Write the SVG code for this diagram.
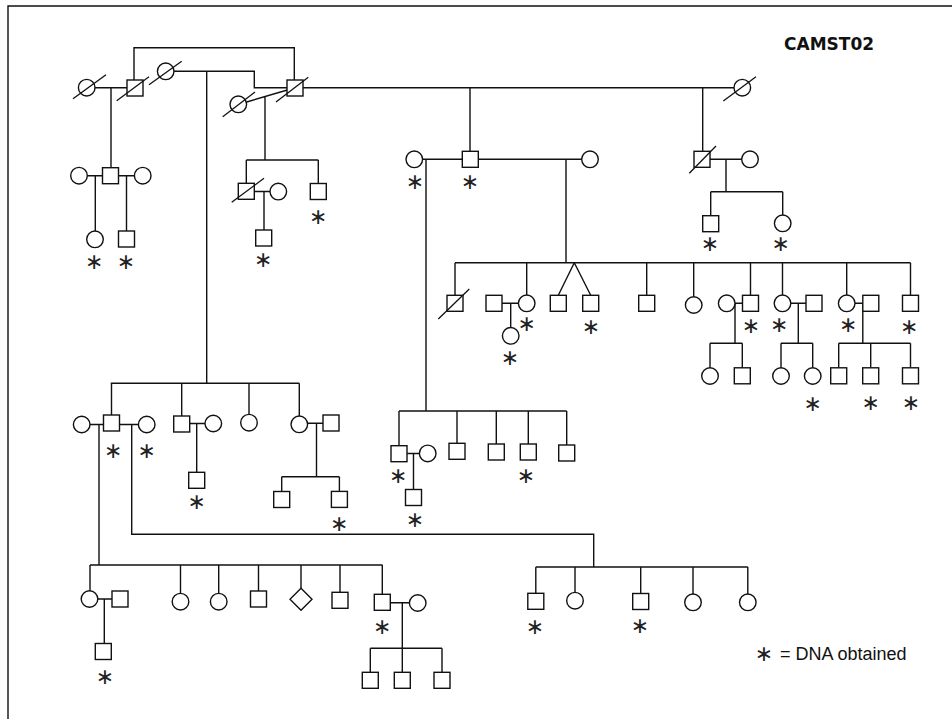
<svg xmlns="http://www.w3.org/2000/svg" width="952" height="719" viewBox="0 0 952 719">
<style>
.l{fill:none;stroke:#111;stroke-width:1.4}
.n{fill:#fff;stroke:#111;stroke-width:1.4}
.d{stroke:#111;stroke-width:1.3}
.a{font-family:"DejaVu Sans",sans-serif;font-size:22px;fill:#222;text-anchor:middle;dominant-baseline:central}
.t{font-family:"DejaVu Sans",sans-serif;font-size:17px;font-weight:bold;fill:#111}
.g{font-family:"Liberation Sans",Arial,sans-serif;font-size:18px;fill:#111}
</style>
<rect width="952" height="719" fill="#fff"/>
<path class="l" d="M8,719 V6 H952"/>
<text class="t" x="784" y="50">CAMST02</text>
<g id="legend"><text class="a" x="764" y="653">∗</text><text class="g" x="780" y="660">= DNA obtained</text></g>
<g id="connectors" class="l">
<path d="M95,87.7 H127 M111,87.7 V167.7"/>
<path d="M134,80 V47.7 H294.3 V80"/>
<path d="M174,71.3 H254.3 V87.7 H287 M206.7,71.3 V383.3"/>
<path d="M246.7,102 L287.3,90 M265,96.6 V160"/>
<path d="M303,87.7 H734 M470,87.7 V151.3 M702.7,87.7 V151.3"/>
<path d="M87.3,175.7 H102.5 M118.5,175.7 H134.4 M95.3,175.7 V231 M126.5,175.7 V231"/>
<path d="M246.3,160 H318.3 M246.3,160 V183.3 M318.3,160 V183.5 M254.3,191.5 H270 M264,191.5 V230"/>
<path d="M422.6,159.3 H462.3 M478.3,159.3 H581.7 M426,159.3 V411 M566,159.3 V262.7"/>
<path d="M710,159.3 H741.7 M726,159.3 V191.7 M710.7,191.7 H782.7 M710.7,191.7 V215.7 M782.7,191.7 V215"/>
<path d="M455,262.7 H910.5 M455,262.7 V295.3 M526.7,262.7 V295 M502,303.3 H518.4 M510.7,303.3 V327.5"/>
<path d="M574.3,262.7 L558.3,295.3 M574.3,262.7 L590.7,295.3 M646.7,262.7 V295.3 M693.7,262.7 V296.7"/>
<path d="M750.5,262.7 V295.3 M735,303.3 H742.5 M735,303.3 V343.3 M710,343.3 H742.3 M710,343.3 V367.7 M742.3,343.3 V367.8"/>
<path d="M782.5,262.7 V295 M790.8,303.3 H806 M798.3,303.3 V343.3 M781,343.3 H812.7 M781,343.3 V367.7 M812.7,343.3 V367.7"/>
<path d="M846.7,262.7 V295 M855,303.3 H862.8 M862.8,303.3 V343.3 M838.7,343.3 H910.5 M838.7,343.3 V367.8 M870.7,343.3 V367.8 M910.5,343.3 V367.8 M910.5,262.7 V295.3"/>
<path d="M110.7,383.3 H299.3 M111.5,383.3 V415 M181.7,383.3 V416 M249,383.3 V414.4 M299.3,383.3 V416"/>
<path d="M90,424.5 H103.5 M119.5,424.5 H138.4 M99,424.5 V565 M131.7,424.5 V534.3 H593.7 V567"/>
<path d="M189.7,423.5 H205 M196.7,423.5 V472.3"/>
<path d="M307.6,423.3 H323 M316.5,423.3 V476.7 M281.7,476.7 H339.4 M281.7,476.7 V491.5 M339.4,476.7 V491.4"/>
<path d="M399,411 H566.7 M399,411 V445.7 M457,411 V443.3 M496.3,411 V444 M528.3,411 V444 M566.7,411 V445"/>
<path d="M407,453.5 H419.4 M413.5,453.5 V489.5"/>
<path d="M90,565 H382.5 M90,565 V590.7 M180.5,565 V593.4 M218.7,565 V593.4 M258.5,565 V591 M301,565 V588.3 M340,565 V592.3 M382.3,565 V594.3"/>
<path d="M97.8,599 H112 M104.3,599 V643.5"/>
<path d="M390.3,602.7 H409.4 M402.3,602.7 V648.3 M370.3,648.3 H442 M370.3,648.3 V672.3 M402.3,648.3 V672.3 M442,648.3 V672.3"/>
<path d="M535.8,567 H747.8 M535.8,567 V593.3 M575,567 V592.4 M640.7,567 V593.5 M693,567 V594 M747.8,567 V594"/>
</g>
<g id="I1"><circle class="n" cx="86.7" cy="87.7" r="8.3"/><line class="d" x1="73" y1="98.7" x2="106" y2="74.7"/></g>
<g id="I2"><rect class="n" x="127" y="80" width="16" height="16"/><line class="d" x1="116.7" y1="100.7" x2="149" y2="76.7"/></g>
<g id="I3"><circle class="n" cx="165.7" cy="71.3" r="8.3"/><line class="d" x1="149" y1="84.7" x2="181.7" y2="61.3"/></g>
<g id="I4"><rect class="n" x="287" y="80" width="16" height="16"/><line class="d" x1="276" y1="102" x2="308.3" y2="77.3"/></g>
<g id="I5"><circle class="n" cx="238.3" cy="104.3" r="8.3"/><line class="d" x1="222.7" y1="116.7" x2="255" y2="92"/></g>
<g id="I6"><circle class="n" cx="742.3" cy="87.7" r="8.3"/><line class="d" x1="723.3" y1="101" x2="756" y2="76.7"/></g>
<g id="II1"><circle class="n" cx="79" cy="175.7" r="8.3"/></g>
<g id="II2"><rect class="n" x="102.5" y="167.7" width="16" height="16"/></g>
<g id="II3"><circle class="n" cx="142.7" cy="175.7" r="8.3"/></g>
<g id="III1"><circle class="n" cx="95" cy="239.3" r="8.3"/><text class="a" x="94.3" y="261.7">∗</text></g>
<g id="III2"><rect class="n" x="118.5" y="231" width="16" height="16"/><text class="a" x="126" y="261.7">∗</text></g>
<g id="II4"><rect class="n" x="238.3" y="183.3" width="16" height="16"/><line class="d" x1="231.7" y1="202.3" x2="264" y2="178.3"/></g>
<g id="II5"><circle class="n" cx="278.3" cy="191.6" r="8.3"/></g>
<g id="II6"><rect class="n" x="310.3" y="183.5" width="16" height="16"/><text class="a" x="318.3" y="216.7">∗</text></g>
<g id="III3"><rect class="n" x="255.7" y="230" width="16" height="16"/><text class="a" x="263.3" y="259">∗</text></g>
<g id="II7"><circle class="n" cx="414.3" cy="159.3" r="8.3"/><text class="a" x="415" y="181.7">∗</text></g>
<g id="II8"><rect class="n" x="462.3" y="151.3" width="16" height="16"/><text class="a" x="470" y="181.7">∗</text></g>
<g id="II9"><circle class="n" cx="590" cy="159.3" r="8.3"/></g>
<g id="II10"><rect class="n" x="694" y="151.3" width="16" height="16"/><line class="d" x1="689.3" y1="173.3" x2="716" y2="146"/></g>
<g id="II11"><circle class="n" cx="750" cy="159.3" r="8.3"/></g>
<g id="III4"><rect class="n" x="702.7" y="215.7" width="16" height="16"/><text class="a" x="710" y="243.3">∗</text></g>
<g id="III5"><circle class="n" cx="782.7" cy="223.3" r="8.3"/><text class="a" x="780.7" y="243.3">∗</text></g>
<g id="III6"><rect class="n" x="447" y="295.3" width="16" height="16"/><line class="d" x1="438.3" y1="319" x2="469.3" y2="289"/></g>
<g id="III7"><rect class="n" x="486" y="295.3" width="16" height="16"/></g>
<g id="III8"><circle class="n" cx="526.7" cy="303.3" r="8.3"/><text class="a" x="526.7" y="323.3">∗</text></g>
<g id="IV1"><circle class="n" cx="510.7" cy="335.8" r="8.3"/><text class="a" x="510" y="357.3">∗</text></g>
<g id="III9"><rect class="n" x="550.3" y="295.3" width="16" height="16"/></g>
<g id="III10"><rect class="n" x="582.7" y="295.3" width="16" height="16"/><text class="a" x="591" y="326">∗</text></g>
<g id="III11"><rect class="n" x="638.7" y="295.3" width="16" height="16"/></g>
<g id="III12"><circle class="n" cx="693.7" cy="305" r="8.3"/></g>
<g id="III13"><circle class="n" cx="726.7" cy="303.3" r="8.3"/></g>
<g id="III14"><rect class="n" x="742.5" y="295.3" width="16" height="16"/><text class="a" x="751" y="325">∗</text></g>
<g id="IV2"><circle class="n" cx="710" cy="376" r="8.3"/></g>
<g id="IV3"><rect class="n" x="734.3" y="367.8" width="16" height="16"/></g>
<g id="III15"><circle class="n" cx="782.5" cy="303.3" r="8.3"/><text class="a" x="779.3" y="324.3">∗</text></g>
<g id="III16"><rect class="n" x="806" y="295.3" width="16" height="16"/></g>
<g id="IV4"><circle class="n" cx="781" cy="376" r="8.3"/></g>
<g id="IV5"><circle class="n" cx="812.7" cy="376" r="8.3"/><text class="a" x="812.7" y="403.3">∗</text></g>
<g id="III17"><circle class="n" cx="846.7" cy="303.3" r="8.3"/><text class="a" x="848.3" y="324.3">∗</text></g>
<g id="III18"><rect class="n" x="862.8" y="295.3" width="16" height="16"/></g>
<g id="IV6"><rect class="n" x="830.7" y="367.8" width="16" height="16"/></g>
<g id="IV7"><rect class="n" x="862.7" y="367.8" width="16" height="16"/><text class="a" x="870.7" y="402.3">∗</text></g>
<g id="IV8"><rect class="n" x="902.5" y="367.8" width="16" height="16"/><text class="a" x="911" y="402.3">∗</text></g>
<g id="III19"><rect class="n" x="902.5" y="295.3" width="16" height="16"/><text class="a" x="909.3" y="326.7">∗</text></g>
<g id="III20"><circle class="n" cx="81.7" cy="424.5" r="8.3"/></g>
<g id="III21"><rect class="n" x="103.5" y="415" width="16" height="16"/><text class="a" x="113.3" y="450">∗</text></g>
<g id="III22"><circle class="n" cx="146.7" cy="424.5" r="8.3"/><text class="a" x="146.7" y="450">∗</text></g>
<g id="III23"><rect class="n" x="173.7" y="416" width="16" height="16"/></g>
<g id="III24"><circle class="n" cx="213.3" cy="423.5" r="8.3"/></g>
<g id="IV9"><rect class="n" x="188.7" y="472.3" width="16" height="16"/><text class="a" x="196.7" y="501.7">∗</text></g>
<g id="III25"><circle class="n" cx="249" cy="422.7" r="8.3"/></g>
<g id="III26"><circle class="n" cx="299.3" cy="424.3" r="8.3"/></g>
<g id="III27"><rect class="n" x="323" y="415" width="16" height="16"/></g>
<g id="IV10"><rect class="n" x="273.7" y="491.5" width="16" height="16"/></g>
<g id="IV11"><rect class="n" x="331.4" y="491.4" width="16" height="16"/><text class="a" x="339.3" y="523.3">∗</text></g>
<g id="III28"><rect class="n" x="391" y="445.7" width="16" height="16"/><text class="a" x="398.3" y="475">∗</text></g>
<g id="III29"><circle class="n" cx="427.7" cy="453.4" r="8.3"/></g>
<g id="IV12"><rect class="n" x="405.5" y="489.5" width="16" height="16"/><text class="a" x="415" y="519.3">∗</text></g>
<g id="III30"><rect class="n" x="449" y="443.3" width="16" height="16"/></g>
<g id="III31"><rect class="n" x="488.3" y="444" width="16" height="16"/></g>
<g id="III32"><rect class="n" x="520.3" y="444" width="16" height="16"/><text class="a" x="526" y="475">∗</text></g>
<g id="III33"><rect class="n" x="558.7" y="445" width="16" height="16"/></g>
<g id="IV13"><circle class="n" cx="89.5" cy="599" r="8.3"/></g>
<g id="IV14"><rect class="n" x="112" y="591" width="16" height="16"/></g>
<g id="V1"><rect class="n" x="95.3" y="643.5" width="16" height="16"/><text class="a" x="105" y="676.7">∗</text></g>
<g id="IV15"><circle class="n" cx="180.5" cy="601.7" r="8.3"/></g>
<g id="IV16"><circle class="n" cx="218.7" cy="601.7" r="8.3"/></g>
<g id="IV17"><rect class="n" x="250.5" y="591" width="16" height="16"/></g>
<g id="IV18"><path class="n" d="M301,588.3 L312,599.3 L301,610.3 L290,599.3 Z"/></g>
<g id="IV19"><rect class="n" x="332" y="592.3" width="16" height="16"/></g>
<g id="IV20"><rect class="n" x="374.3" y="594.3" width="16" height="16"/><text class="a" x="382.3" y="626.7">∗</text></g>
<g id="IV21"><circle class="n" cx="417.7" cy="603" r="8.3"/></g>
<g id="V2"><rect class="n" x="362.3" y="672.3" width="16" height="16"/></g>
<g id="V3"><rect class="n" x="394.3" y="672.3" width="16" height="16"/></g>
<g id="V4"><rect class="n" x="434" y="672.3" width="16" height="16"/></g>
<g id="IV22"><rect class="n" x="527.8" y="593.3" width="16" height="16"/><text class="a" x="535" y="626.7">∗</text></g>
<g id="IV23"><circle class="n" cx="575" cy="600.7" r="8.3"/></g>
<g id="IV24"><rect class="n" x="632.7" y="593.5" width="16" height="16"/><text class="a" x="640" y="625">∗</text></g>
<g id="IV25"><circle class="n" cx="693" cy="602.3" r="8.3"/></g>
<g id="IV26"><circle class="n" cx="747.8" cy="602.3" r="8.3"/></g>
</svg>
